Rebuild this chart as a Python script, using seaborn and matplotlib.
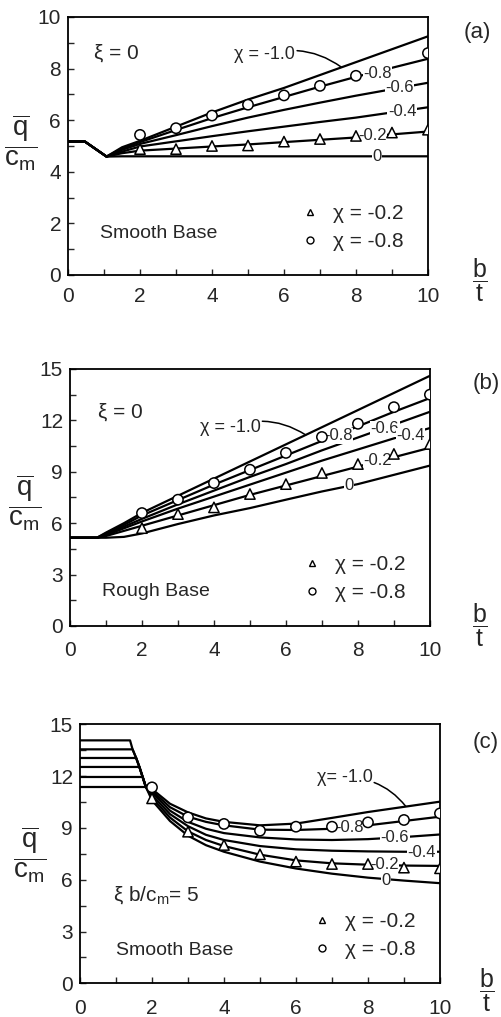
import numpy as np
import pandas as pd
import seaborn as sns
import matplotlib.pyplot as plt
from matplotlib.lines import Line2D
from matplotlib.ticker import MultipleLocator

sns.set_style('ticks', {'xtick.direction': 'in', 'ytick.direction': 'in'})
plt.rcParams['font.family'] = ['Liberation Sans', 'DejaVu Sans']
plt.rcParams['mathtext.fontset'] = 'custom'
plt.rcParams['mathtext.rm'] = 'Liberation Sans'
plt.rcParams['mathtext.it'] = 'Liberation Sans'
plt.rcParams['mathtext.bf'] = 'Liberation Sans:bold'

# valori chi pentru curbe (de sus in jos)
chi_labels = ['-1.0', '-0.8', '-0.6', '-0.4', '-0.2', '0']

# (a) smooth base, xi = 0
a_x = [0, 0.47, 1.07, 1.5, 2, 3, 4, 5, 6, 7, 8, 9, 10]
a_m10 = [5.17, 5.17, 4.59, 4.95, 5.2, 5.75, 6.3, 6.8, 7.25, 7.75, 8.25, 8.75, 9.25]
a_m08 = [5.17, 5.17, 4.59, 4.9, 5.15, 5.62, 6.08, 6.5, 6.9, 7.3, 7.68, 8.03, 8.38]
a_m06 = [5.17, 5.17, 4.59, 4.85, 5.08, 5.42, 5.77, 6.1, 6.4, 6.68, 6.95, 7.2, 7.45]
a_m04 = [5.17, 5.17, 4.59, 4.78, 4.98, 5.18, 5.38, 5.57, 5.75, 5.93, 6.1, 6.3, 6.5]
a_m02 = [5.17, 5.17, 4.59, 4.72, 4.82, 4.9, 4.98, 5.06, 5.15, 5.24, 5.33, 5.45, 5.56]
a_m00 = [5.17, 5.17, 4.59, 4.6, 4.6, 4.6, 4.6, 4.6, 4.6, 4.6, 4.6, 4.6, 4.6]
a_tri_x = [2, 3, 4, 5, 6, 7, 8, 9, 10]
a_tri_y = [4.88, 4.88, 5.0, 5.02, 5.17, 5.27, 5.39, 5.52, 5.63]
a_circ_x = [2, 3, 4, 5, 6, 7, 8, 10]
a_circ_y = [5.43, 5.69, 6.18, 6.6, 6.96, 7.33, 7.72, 8.6]

# (b) rough base, xi = 0
b_x = [0, 0.75, 1, 1.5, 2, 3, 4, 5, 6, 7, 8, 9, 10]
b_m10 = [5.15, 5.15, 5.45, 6.0, 6.6, 7.6, 8.6, 9.6, 10.6, 11.6, 12.6, 13.6, 14.6]
b_m08 = [5.15, 5.15, 5.4, 5.9, 6.45, 7.35, 8.25, 9.1, 9.95, 10.8, 11.65, 12.5, 13.3]
b_m06 = [5.15, 5.15, 5.35, 5.8, 6.25, 7.1, 7.9, 8.7, 9.45, 10.25, 11.0, 11.75, 12.5]
b_m04 = [5.15, 5.15, 5.3, 5.7, 6.1, 6.85, 7.55, 8.25, 8.95, 9.65, 10.3, 10.95, 11.55]
b_m02 = [5.15, 5.15, 5.25, 5.55, 5.85, 6.45, 7.05, 7.65, 8.2, 8.75, 9.3, 9.85, 10.4]
b_m00 = [5.15, 5.15, 5.15, 5.2, 5.4, 5.95, 6.45, 6.88, 7.37, 7.85, 8.28, 8.82, 9.36]
b_tri_x = [2, 3, 4, 5, 6, 7, 8, 9, 10]
b_tri_y = [5.71, 6.53, 6.92, 7.7, 8.28, 8.93, 9.45, 10.04, 10.62]
b_circ_x = [2, 3, 4, 5, 6, 7, 8, 9, 10]
b_circ_y = [6.59, 7.37, 8.34, 9.12, 10.1, 11.03, 11.8, 12.77, 13.5]

# (c) smooth base, xi b/cm = 5
c_flat = [14.07, 13.55, 13.05, 12.53, 11.95, 11.37]
c_env_x = [1.39, 1.46, 1.56, 1.65, 1.74, 1.83]
c_env_y = [14.07, 13.55, 13.05, 12.53, 11.95, 11.37]
c_tail_x = [2, 2.5, 3, 3.5, 4, 5, 6, 7, 8, 9, 10]
c_m10 = [11.25, 10.4, 9.9, 9.55, 9.35, 9.15, 9.25, 9.58, 9.92, 10.22, 10.52]
c_m08 = [11.15, 10.2, 9.65, 9.35, 9.15, 8.9, 8.88, 8.95, 9.15, 9.4, 9.65]
c_m06 = [11.05, 10.0, 9.35, 8.95, 8.7, 8.45, 8.33, 8.3, 8.35, 8.47, 8.62]
c_m04 = [10.9, 9.8, 9.1, 8.6, 8.3, 7.95, 7.76, 7.68, 7.64, 7.62, 7.62]
c_m02 = [10.75, 9.6, 8.8, 8.3, 7.95, 7.45, 7.12, 6.95, 6.87, 6.82, 6.8]
c_m00 = [10.6, 9.4, 8.55, 8.0, 7.62, 7.05, 6.65, 6.35, 6.12, 5.95, 5.8]
c_tri_x = [2, 3, 4, 5, 6, 7, 8, 9, 10]
c_tri_y = [10.71, 8.78, 8.01, 7.47, 7.05, 6.91, 6.91, 6.7, 6.66]
c_circ_x = [2, 3, 4, 5, 6, 7, 8, 9, 10]
c_circ_y = [11.35, 9.61, 9.23, 8.84, 9.07, 9.07, 9.32, 9.46, 9.84]


def tabel_curbe(xs_list, ys_list):
    parti = []
    for lab, xs, ys in zip(chi_labels, xs_list, ys_list):
        parti.append(pd.DataFrame({'x': xs, 'y': ys, 'chi': lab}))
    return pd.concat(parti, ignore_index=True)


date_a = tabel_curbe([a_x] * 6, [a_m10, a_m08, a_m06, a_m04, a_m02, a_m00])
date_b = tabel_curbe([b_x] * 6, [b_m10, b_m08, b_m06, b_m04, b_m02, b_m00])
c_xs = [[0] + c_env_x[i:] + c_tail_x for i in range(6)]
c_ys = [[c_flat[i]] + c_env_y[i:] + t for i, t in
        enumerate([c_m10, c_m08, c_m06, c_m04, c_m02, c_m00])]
date_c = tabel_curbe(c_xs, c_ys)


def deseneaza(ax, curbe, tri_x, tri_y, circ_x, circ_y, ymax, ystep, xpad):
    sns.lineplot(data=curbe, x='x', y='y', units='chi', estimator=None, sort=False,
                 color='black', lw=1.6, ax=ax, zorder=2)
    puncte = pd.DataFrame({'x': tri_x + circ_x, 'y': tri_y + circ_y,
                           'chi': ['-0.2'] * len(tri_x) + ['-0.8'] * len(circ_x)})
    sns.scatterplot(data=puncte, x='x', y='y', style='chi', markers={'-0.2': '^', '-0.8': 'o'},
                    color='white', edgecolor='black', linewidth=1.1, s=55, legend=False,
                    zorder=4, ax=ax)
    ax.set_xlim(0, 10)
    ax.set_ylim(0, ymax)
    ax.xaxis.set_major_locator(MultipleLocator(2))
    ax.xaxis.set_minor_locator(MultipleLocator(1))
    ax.yaxis.set_major_locator(MultipleLocator(ystep))
    ax.yaxis.set_minor_locator(MultipleLocator(ystep / 2))
    ax.tick_params(which='both', direction='in', length=4, width=1, top=False, right=False,
                   labelsize=15)
    ax.tick_params(axis='x', pad=xpad)
    ax.tick_params(axis='y', pad=5)
    ax.set_xlabel('')
    ax.set_ylabel('')
    for s in ax.spines.values():
        s.set_visible(True)
        s.set_linewidth(1.3)
        s.set_color('black')
    handles = [Line2D([], [], marker='^', ls='none', mfc='white', mec='black', ms=5, mew=1),
               Line2D([], [], marker='o', ls='none', mfc='white', mec='black', ms=5, mew=1)]
    ax.legend(handles, ['χ = -0.2', 'χ = -0.8'], loc='lower right', bbox_to_anchor=(0.955, 0.06),
              frameon=False, fontsize=15, handletextpad=0.6, labelspacing=0.45,
              handlelength=1.0, borderaxespad=0)


def eticheta(ax, x, y, t):
    ax.text(x, y, t, ha='center', va='center', fontsize=12, zorder=3,
            bbox=dict(fc='white', ec='none', pad=0.2))


fig = plt.figure(figsize=(5.02, 10.17), dpi=100)
ax_a = fig.add_axes([0.1355, 0.7296, 0.717, 0.2537])
ax_b = fig.add_axes([0.1394, 0.3845, 0.717, 0.2527])
ax_c = fig.add_axes([0.1594, 0.0331, 0.717, 0.2547])

deseneaza(ax_a, date_a, a_tri_x, a_tri_y, a_circ_x, a_circ_y, 10, 2, 9)
deseneaza(ax_b, date_b, b_tri_x, b_tri_y, b_circ_x, b_circ_y, 15, 3, 11)
deseneaza(ax_c, date_c, c_tri_x, c_tri_y, c_circ_x, c_circ_y, 15, 3, 11)

lider = dict(arrowstyle='-', lw=1.1, color='black', connectionstyle='arc3,rad=-0.25',
             shrinkA=1, shrinkB=0)
cutie = dict(fc='white', ec='none', pad=0.2)

# (a)
ax_a.annotate('χ = -1.0', xy=(7.6, 8.05), xytext=(5.47, 8.53), ha='center', va='center',
              fontsize=13, arrowprops=lider, bbox=cutie, zorder=3)
for x, y, t in [(8.6, 7.82, '-0.8'), (9.22, 7.25, '-0.6'), (9.28, 6.33, '-0.4'),
                (8.45, 5.4, '-0.2'), (8.58, 4.6, '0')]:
    eticheta(ax_a, x, y, t)
ax_a.text(1.35, 8.6, 'ξ = 0', ha='center', va='center', fontsize=15)
ax_a.text(0.9, 1.6, 'Smooth Base', ha='left', va='center', fontsize=14)

# (b)
ax_b.annotate('χ = -1.0', xy=(6.55, 11.15), xytext=(4.45, 11.6), ha='center', va='center',
              fontsize=13, arrowprops=lider, bbox=cutie, zorder=3)
for x, y, t in [(7.45, 11.1, '-0.8'), (8.75, 11.5, '-0.6'), (9.45, 11.1, '-0.4'),
                (8.55, 9.65, '-0.2'), (7.76, 8.17, '0')]:
    eticheta(ax_b, x, y, t)
ax_b.text(1.4, 12.5, 'ξ = 0', ha='center', va='center', fontsize=15)
ax_b.text(0.9, 2.0, 'Rough Base', ha='left', va='center', fontsize=14)

# (c)
ax_c.annotate('χ= -1.0', xy=(9.05, 10.25), xytext=(7.35, 11.9), ha='center', va='center',
              fontsize=13, arrowprops=lider, bbox=cutie, zorder=3)
for x, y, t in [(7.5, 9.02, '-0.8'), (8.75, 8.45, '-0.6'), (9.5, 7.55, '-0.4'),
                (8.45, 6.87, '-0.2'), (8.5, 5.95, '0')]:
    eticheta(ax_c, x, y, t)
ax_c.text(0.92, 5.1, 'ξ b/c$_\\mathrm{m}$= 5', ha='left', va='center', fontsize=15)
ax_c.text(1.0, 1.93, 'Smooth Base', ha='left', va='center', fontsize=14)

# etichete panouri, axe
for (px, py), t in zip([(0.950, 0.9685), (0.968, 0.623), (0.968, 0.270)], ['(a)', '(b)', '(c)']):
    fig.text(px, py, t, ha='center', va='center', fontsize=16)
for px, py in [(0.956, 0.7247), (0.956, 0.3855), (0.970, 0.0265)]:
    fig.text(px, py, r'$\dfrac{\mathrm{b}}{\mathrm{t}}$', ha='center', va='center', fontsize=18)
for px, py in [(0.040, 0.859), (0.048, 0.5054), (0.058, 0.159)]:
    fig.text(px, py, r'$\dfrac{\overline{\mathrm{q}}}{\mathrm{c_m}}$', ha='center', va='center',
             fontsize=20)

fig.savefig('out.png', dpi=100)
